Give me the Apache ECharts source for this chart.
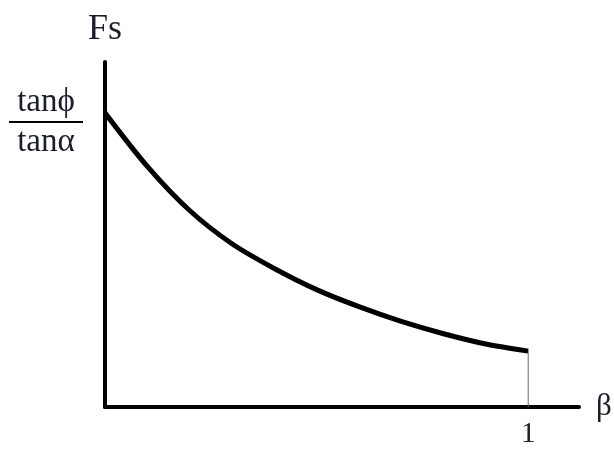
<!DOCTYPE html>
<html>
<head>
<meta charset="utf-8">
<script src="https://cdn.jsdelivr.net/npm/echarts@6.0.0/dist/echarts.min.js"></script>
<style>
  html, body { margin: 0; padding: 0; background: #fff; }
  #chart { width: 614px; height: 454px; }
</style>
</head>
<body>
<div id="chart"></div>
<script>
// curve: beta (0..1) against Fs (1 = tanφ/tanα)
const betaValues = [0, 0.1, 0.2, 0.3, 0.4, 0.5, 0.6, 0.7, 0.8, 0.9, 1.0]
const fsValues = [1.0, 0.818, 0.668, 0.555, 0.471, 0.399, 0.341, 0.291, 0.249, 0.214, 0.190]
const betaTicks = [1]
const fsTicks = [1]

const serif = 'Liberation Serif'
const ink = '#1b1f2a'

const curve = betaValues.map((b, i) => [b, fsValues[i]])
const endBeta = betaValues[betaValues.length - 1]
const endFs = fsValues[fsValues.length - 1]

const chart = echarts.init(document.getElementById('chart'))
chart.setOption({
  animation: false,
  grid: {
    left: 105,
    right: 35,
    top: 62,
    bottom: 47,
    containLabel: false,
    outerBoundsMode: 'none'
  },
  xAxis: {
    type: 'value',
    min: 0,
    max: 1.12,
    name: 'β',
    nameLocation: 'end',
    nameGap: 17,
    nameTextStyle: {
      fontFamily: serif,
      fontSize: 31,
      color: ink,
      verticalAlign: 'middle',
      padding: [14, 0, 0, 0]
    },
    axisLine: { show: true, lineStyle: { color: '#000', width: 4 } },
    axisTick: { show: false },
    splitLine: { show: false },
    axisLabel: {
      customValues: betaTicks,
      margin: 12,
      fontFamily: serif,
      fontSize: 30,
      color: ink,
      formatter: v => String(v)
    }
  },
  yAxis: {
    type: 'value',
    min: 0,
    max: 1.173,
    name: 'Fs',
    nameLocation: 'end',
    nameGap: 14,
    nameTextStyle: {
      fontFamily: serif,
      fontSize: 36,
      color: ink,
      align: 'center'
    },
    axisLine: { show: true, lineStyle: { color: '#000', width: 4 } },
    axisTick: { show: false },
    splitLine: { show: false },
    axisLabel: {
      customValues: fsTicks,
      margin: 22,
      padding: [18, 0, 0, 0],
      formatter: () => '{n|tanϕ}\n{l| }\n{d|tanα}',
      rich: {
        n: { fontFamily: serif, fontSize: 33, color: ink, align: 'center', lineHeight: 32 },
        l: { width: 74, height: 2, lineHeight: 8, backgroundColor: '#000', fontSize: 2 },
        d: { fontFamily: serif, fontSize: 33, color: ink, align: 'center', lineHeight: 32 }
      }
    }
  },
  series: [
    {
      type: 'line',
      data: curve,
      smooth: 0.3,
      showSymbol: false,
      lineStyle: { color: '#000', width: 5 }
    },
    {
      type: 'line',
      data: [[endBeta, 0], [endBeta, endFs]],
      showSymbol: false,
      lineStyle: { color: '#666', width: 1 }
    }
  ]
})
</script>
</body>
</html>
